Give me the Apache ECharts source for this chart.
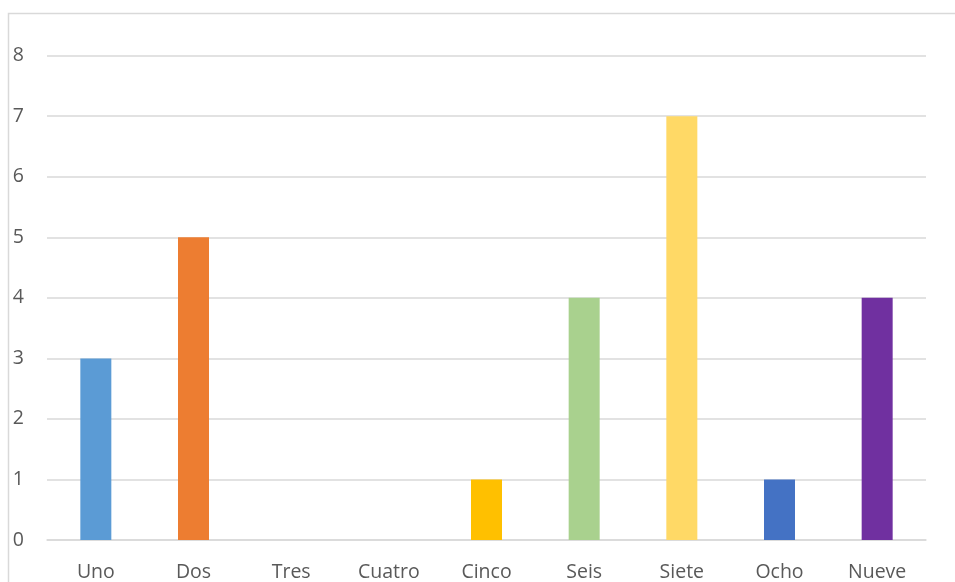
<!DOCTYPE html>
<html>
<head>
<meta charset="utf-8">
<script src="https://cdn.jsdelivr.net/npm/echarts@6/dist/echarts.min.js"></script>
<style>
  html, body { margin: 0; padding: 0; background: #ffffff; }
  #chart { width: 955px; height: 582px; }
</style>
</head>
<body>
<div id="chart"></div>
<script>
// Category names along the x axis
const categories = ['Uno', 'Dos', 'Tres', 'Cuatro', 'Cinco', 'Seis', 'Siete', 'Ocho', 'Nueve'];
// One value per category
const values = [3, 5, 0, 0, 1, 4, 7, 1, 4];
// Fill colour for each bar
const barColors = ['#5B9BD5', '#ED7D31', '#A5A5A5', '#FFC000', '#FFC000', '#A9D18E', '#FFD966', '#4472C4', '#7030A0'];
// Value axis range
const yMin = 0, yMax = 8, yStep = 1;

const chart = echarts.init(document.getElementById('chart'), null, { renderer: 'canvas' });

const textStyle = { color: '#595959', fontFamily: 'Open Sans', fontSize: 19.5 };

chart.setOption({
  animation: false,
  backgroundColor: '#ffffff',
  graphic: [{
    type: 'rect',
    shape: { x: 8.5, y: 13.5, width: 1200, height: 800 },
    style: { fill: 'none', stroke: '#d9d9d9', lineWidth: 1.5 },
    silent: true,
    z: -1
  }],
  grid: { left: 47, right: 29, top: 55.7, bottom: 42, containLabel: false },
  xAxis: {
    type: 'category',
    data: categories,
    axisLine: { show: true, lineStyle: { color: '#d9d9d9', width: 1.5 } },
    axisTick: { show: false },
    axisLabel: Object.assign({ margin: 22, interval: 0 }, textStyle),
    splitLine: { show: false }
  },
  yAxis: {
    type: 'value',
    min: yMin, max: yMax, interval: yStep,
    axisLine: { show: false },
    axisTick: { show: false },
    axisLabel: Object.assign({ margin: 23 }, textStyle),
    splitLine: { show: true, lineStyle: { color: '#d9d9d9', width: 1.5 } }
  },
  series: [{
    type: 'bar',
    data: values.map((v, i) => ({ value: v, itemStyle: { color: barColors[i] } })),
    barWidth: 31
  }]
});
</script>
</body>
</html>
